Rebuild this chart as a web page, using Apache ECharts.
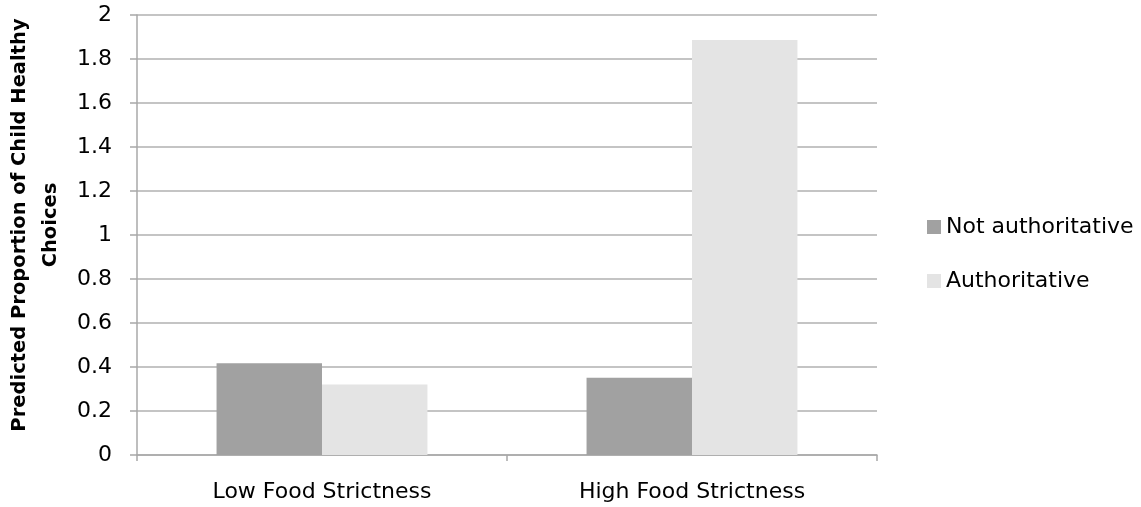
<!DOCTYPE html>
<html><head><meta charset="utf-8">
<script src="https://cdn.jsdelivr.net/npm/echarts@6/dist/echarts.min.js"></script>
<style>html,body{margin:0;padding:0;background:#fff}#c{width:1141px;height:507px}</style>
</head><body><div id="c"></div>
<script>
const categories = ['Low Food Strictness', 'High Food Strictness'];
const notAuthoritative = [0.417, 0.351];
const authoritative = [0.321, 1.886];
const yTicks = [0, 0.2, 0.4, 0.6, 0.8, 1, 1.2, 1.4, 1.6, 1.8, 2];
const seriesNames = ['Not authoritative', 'Authoritative'];

const chart = echarts.init(document.getElementById('c'), null, {renderer: 'canvas'});
const font = '"DejaVu Sans", sans-serif';
chart.setOption({
  animation: false,
  textStyle: {fontFamily: font},
  grid: {left: 137, right: 264, top: 15, bottom: 52, containLabel: false, outerBoundsMode: 'none'},
  legend: {
    orient: 'vertical', left: 922, top: 211, itemGap: 32,
    itemWidth: 14, itemHeight: 14, icon: 'rect',
    textStyle: {fontSize: 22, color: '#000', fontFamily: font, padding: [0, 0, 0, 0]},
    data: seriesNames
  },
  xAxis: {
    type: 'category', data: categories,
    axisLine: {lineStyle: {color: '#a8a8a8', width: 1.5}},
    axisTick: {show: true, length: 6, lineStyle: {color: '#a8a8a8', width: 1.5}},
    axisLabel: {fontSize: 22, color: '#000', margin: 26, fontFamily: font}
  },
  yAxis: {
    type: 'value', min: yTicks[0], max: yTicks[yTicks.length - 1], interval: 0.2,
    name: 'Predicted Proportion of Child Healthy\nChoices',
    nameLocation: 'middle', nameGap: 66, nameRotate: 90,
    nameTextStyle: {fontSize: 19.5, fontWeight: 'bold', color: '#000', lineHeight: 31, fontFamily: font,
      padding: [0, 0, 0, 20]},
    axisLine: {show: true, lineStyle: {color: '#a8a8a8', width: 1.5}},
    axisTick: {show: true, length: 7, lineStyle: {color: '#a8a8a8', width: 1.5}},
    splitLine: {lineStyle: {color: '#b0b0b0', width: 1.5}},
    axisLabel: {fontSize: 22, color: '#000', margin: 25, fontFamily: font,
      formatter: v => String(parseFloat(v.toFixed(1)))}
  },
  series: [
    {name: seriesNames[0], type: 'bar', data: notAuthoritative, barGap: '0%', barCategoryGap: '43%',
     itemStyle: {color: '#a1a1a1'}},
    {name: seriesNames[1], type: 'bar', data: authoritative, barGap: '0%', barCategoryGap: '43%',
     itemStyle: {color: '#e4e4e4'}}
  ]
});
</script></body></html>
